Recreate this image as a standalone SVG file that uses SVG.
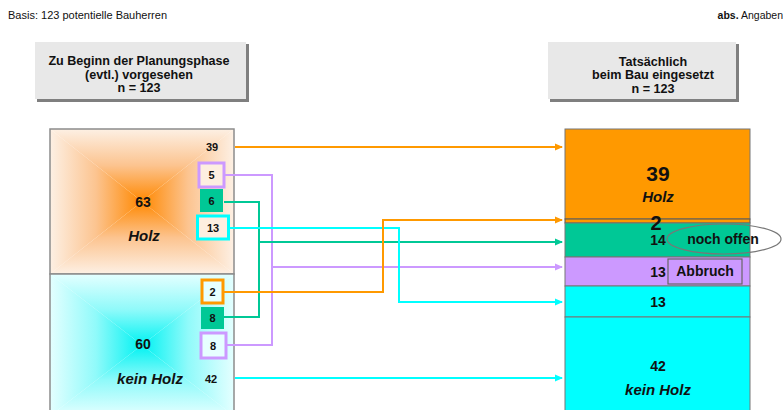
<svg xmlns="http://www.w3.org/2000/svg" width="783" height="410" viewBox="0 0 783 410">
<style>
text{font-family:"Liberation Sans",Arial,sans-serif;fill:#111}
.b{font-weight:bold}
.h{font-weight:bold;font-size:12.6px;text-anchor:middle}
.n{font-weight:bold;font-size:11px;text-anchor:middle}
.m{font-weight:bold;font-size:14px;text-anchor:middle}
.it{font-weight:bold;font-style:italic;font-size:15px;text-anchor:middle}
.c{fill:none;stroke-width:2}
.or{stroke:#ff9900}.gr{stroke:#00c896}.pu{stroke:#cc99ff}.cy{stroke:#00ffff}
</style>
<defs>
<linearGradient id="oT" gradientUnits="userSpaceOnUse" x1="0" y1="129" x2="0" y2="201.5"><stop offset="0" stop-color="#fdf0e4"/><stop offset="0.5" stop-color="#fcc490"/><stop offset="1" stop-color="#ff8800"/></linearGradient>
<linearGradient id="oB" gradientUnits="userSpaceOnUse" x1="0" y1="274" x2="0" y2="201.5"><stop offset="0" stop-color="#fdf0e4"/><stop offset="0.5" stop-color="#fcc490"/><stop offset="1" stop-color="#ff8800"/></linearGradient>
<linearGradient id="oL" gradientUnits="userSpaceOnUse" x1="50" y1="0" x2="142" y2="0"><stop offset="0" stop-color="#fdf0e4"/><stop offset="0.5" stop-color="#fcc490"/><stop offset="1" stop-color="#ff8800"/></linearGradient>
<linearGradient id="oR" gradientUnits="userSpaceOnUse" x1="234" y1="0" x2="142" y2="0"><stop offset="0" stop-color="#fdf0e4"/><stop offset="0.5" stop-color="#fcc490"/><stop offset="1" stop-color="#ff8800"/></linearGradient>
<linearGradient id="cT" gradientUnits="userSpaceOnUse" x1="0" y1="274" x2="0" y2="345"><stop offset="0" stop-color="#e4ffff"/><stop offset="0.5" stop-color="#90fafa"/><stop offset="1" stop-color="#00f2f2"/></linearGradient>
<linearGradient id="cB" gradientUnits="userSpaceOnUse" x1="0" y1="416" x2="0" y2="345"><stop offset="0" stop-color="#e4ffff"/><stop offset="0.5" stop-color="#90fafa"/><stop offset="1" stop-color="#00f2f2"/></linearGradient>
<linearGradient id="cL" gradientUnits="userSpaceOnUse" x1="50" y1="0" x2="142" y2="0"><stop offset="0" stop-color="#e4ffff"/><stop offset="0.5" stop-color="#90fafa"/><stop offset="1" stop-color="#00f2f2"/></linearGradient>
<linearGradient id="cR" gradientUnits="userSpaceOnUse" x1="234" y1="0" x2="142" y2="0"><stop offset="0" stop-color="#e4ffff"/><stop offset="0.5" stop-color="#90fafa"/><stop offset="1" stop-color="#00f2f2"/></linearGradient>
<marker id="aO" markerWidth="8" markerHeight="8" refX="7" refY="4" orient="auto" markerUnits="userSpaceOnUse"><path d="M0,0.5 L8,4 L0,7.5Z" fill="#ff9900"/></marker>
<marker id="aG" markerWidth="8" markerHeight="8" refX="7" refY="4" orient="auto" markerUnits="userSpaceOnUse"><path d="M0,0.5 L8,4 L0,7.5Z" fill="#00c896"/></marker>
<marker id="aP" markerWidth="8" markerHeight="8" refX="7" refY="4" orient="auto" markerUnits="userSpaceOnUse"><path d="M0,0.5 L8,4 L0,7.5Z" fill="#cc99ff"/></marker>
<marker id="aC" markerWidth="8" markerHeight="8" refX="7" refY="4" orient="auto" markerUnits="userSpaceOnUse"><path d="M0,0.5 L8,4 L0,7.5Z" fill="#00ffff"/></marker>
</defs>
<rect width="783" height="410" fill="#fff"/>
<g id="basis"><text x="8" y="19" font-size="11">Basis: 123 potentielle Bauherren</text></g>
<g id="angaben"><text x="783" y="19" font-size="10.5" text-anchor="end"><tspan class="b">abs.</tspan> Angaben</text></g>

<g id="header-left">
<rect x="37" y="44" width="212" height="58" fill="#7f7f7f"/>
<rect x="35" y="42" width="211" height="57" fill="#e8e8e8"/>
<text class="h" x="139" y="65">Zu Beginn der Planungsphase</text>
<text class="h" x="139" y="78.5">(evtl.) vorgesehen</text>
<text class="h" x="139" y="92">n = 123</text>
</g>
<g id="header-right">
<rect x="550" y="44" width="189" height="58" fill="#7f7f7f"/>
<rect x="548" y="42" width="188" height="57" fill="#e8e8e8"/>
<text class="h" x="653" y="65.5">Tatsächlich</text>
<text class="h" x="653" y="79">beim Bau eingesetzt</text>
<text class="h" x="653" y="92.5">n = 123</text>
</g>

<g id="left-holz">
<path d="M50,129 H234 L142,201.5Z" fill="url(#oT)"/>
<path d="M50,274 H234 L142,201.5Z" fill="url(#oB)"/>
<path d="M50,129 V274 L142,201.5Z" fill="url(#oL)"/>
<path d="M234,129 V274 L142,201.5Z" fill="url(#oR)"/>
<rect x="50" y="129" width="184" height="145" fill="none" stroke="#8c8c8c" stroke-width="1.5"/>
<text class="m" x="143" y="207">63</text>
<text class="it" x="144" y="241">Holz</text>
<text class="n" x="212" y="151">39</text>
</g>
<g id="left-keinholz">
<path d="M50,274 H234 L142,345Z" fill="url(#cT)"/>
<path d="M50,416 H234 L142,345Z" fill="url(#cB)"/>
<path d="M50,274 V416 L142,345Z" fill="url(#cL)"/>
<path d="M234,274 V416 L142,345Z" fill="url(#cR)"/>
<rect x="50" y="274" width="184" height="142" fill="none" stroke="#8c8c8c" stroke-width="1.5"/>
<text class="m" x="143" y="349">60</text>
<text class="it" x="150" y="384">kein Holz</text>
<text class="n" x="211" y="383">42</text>
</g>
<g id="box-5"><rect x="199" y="163" width="25" height="24" fill="#fdeee0" stroke="#cc99ff" stroke-width="3"/><text class="n" x="211.5" y="179">5</text></g>
<g id="box-6"><rect x="200" y="189" width="23" height="23" fill="#00c896"/><text class="n" x="211.5" y="205">6</text></g>
<g id="box-13"><rect x="197.5" y="216" width="31" height="23" fill="#fdeee0" stroke="#00ffff" stroke-width="3"/><text class="n" x="213" y="232">13</text></g>
<g id="box-2"><rect x="202" y="280" width="21" height="23" fill="#e6ffff" stroke="#ff9900" stroke-width="3"/><text class="n" x="212.5" y="296">2</text></g>
<g id="box-8g"><rect x="201" y="307" width="23" height="22" fill="#00c896"/><text class="n" x="212.5" y="322">8</text></g>
<g id="box-8p"><rect x="201" y="333" width="25" height="25" fill="#e6ffff" stroke="#cc99ff" stroke-width="3"/><text class="n" x="213" y="350">8</text></g>

<g id="right-stack">
<rect x="565" y="129" width="185" height="90" fill="#ff9900" stroke="#777" stroke-width="1"/>
<rect x="565" y="219" width="185" height="4" fill="#ff9900" stroke="#555" stroke-width="1"/>
<rect x="565" y="223" width="185" height="34" fill="#00c896" stroke="#777" stroke-width="1"/>
<rect x="565" y="257" width="185" height="29" fill="#cc99ff" stroke="#777" stroke-width="1"/>
<rect x="565" y="286" width="185" height="31" fill="#00ffff" stroke="#777" stroke-width="1"/>
<rect x="565" y="317" width="185" height="100" fill="#00ffff" stroke="#777" stroke-width="1"/>
<text class="b" x="658" y="181" font-size="21" text-anchor="middle">39</text>
<text class="it" x="658" y="202">Holz</text>
<text class="b" x="656" y="230" font-size="20" text-anchor="middle">2</text>
<text class="m" x="658" y="245" font-size="13">14</text>
<text class="m" x="658" y="277" font-size="13">13</text>
<text class="m" x="658" y="307" font-size="13">13</text>
<text class="m" x="658" y="371" font-size="13">42</text>
<text class="it" x="658" y="395">kein Holz</text>
</g>
<g id="noch-offen">
<ellipse cx="724" cy="239" rx="57" ry="15" fill="none" stroke="#777" stroke-width="1.2"/>
<text class="m" x="723" y="244" font-size="13">noch offen</text>
</g>
<g id="abbruch">
<rect x="668" y="259" width="74" height="25" fill="#cc99ff" stroke="#666" stroke-width="1.2"/>
<text class="m" x="705" y="276" font-size="13">Abbruch</text>
</g>

<g id="connectors">
<path class="c or" d="M235,147 H562" marker-end="url(#aO)"/>
<path class="c pu" d="M225,175 H272 V345 H227"/>
<path class="c pu" d="M272,267 H562" marker-end="url(#aP)"/>
<path class="c gr" d="M224,202 H259 V317 H224"/>
<path class="c gr" d="M259,242 H562" marker-end="url(#aG)"/>
<path class="c cy" d="M229,228 H399 V302 H562" marker-end="url(#aC)"/>
<path class="c or" d="M224,292 H383 V220 H562" marker-end="url(#aO)"/>
<path class="c cy" d="M235,378 H562" marker-end="url(#aC)"/>
</g>
</svg>
